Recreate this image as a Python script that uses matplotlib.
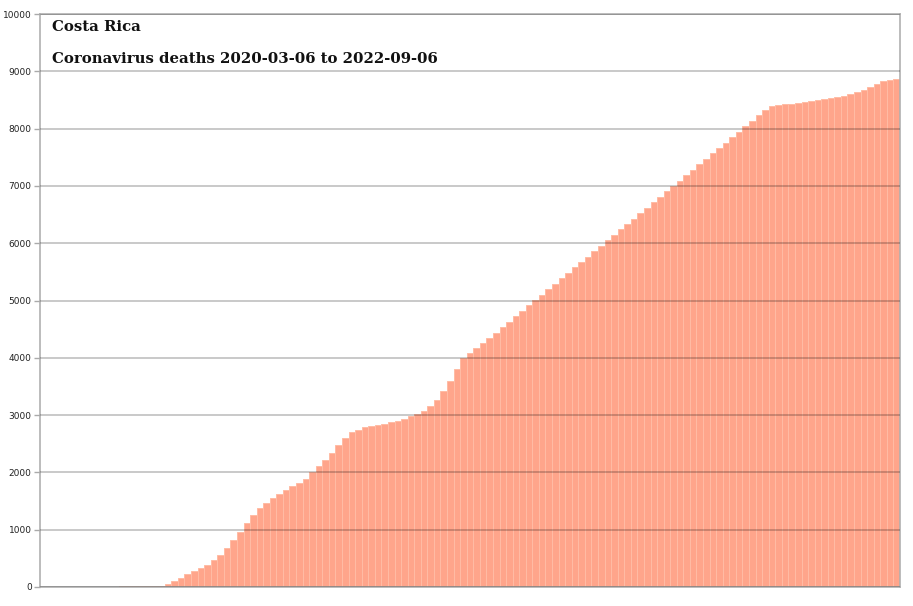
import matplotlib
matplotlib.use("Agg")
import matplotlib.pyplot as plt
import numpy as np

# weekly cumulative deaths (2020-03-06 .. 2022-09-06)
deaths = [0, 0, 2, 2, 2, 3, 6, 6, 6, 6,
          6, 7, 10, 10, 11, 12, 12, 10, 25, 60,
          109, 164, 220, 275, 329, 383, 464, 562, 679, 815,
          965, 1123, 1261, 1378, 1465, 1551, 1620, 1690, 1758, 1823,
          1889, 1999, 2114, 2225, 2342, 2474, 2601, 2702, 2748, 2786,
          2805, 2824, 2849, 2876, 2904, 2940, 2976, 3022, 3073, 3151,
          3268, 3412, 3596, 3799, 4005, 4085, 4165, 4253, 4346, 4441,
          4535, 4630, 4725, 4819, 4914, 5009, 5103, 5198, 5293, 5387,
          5482, 5577, 5672, 5766, 5861, 5956, 6050, 6145, 6240, 6335,
          6429, 6524, 6619, 6714, 6808, 6903, 6998, 7093, 7187, 7282,
          7377, 7471, 7566, 7661, 7755, 7850, 7945, 8040, 8134, 8229,
          8324, 8394, 8409, 8423, 8437, 8451, 8465, 8482, 8499, 8517,
          8534, 8551, 8577, 8606, 8636, 8670, 8721, 8773, 8823, 8848,
          8874]
country = "Costa Rica"
subtitle = "Coronavirus deaths 2020-03-06 to 2022-09-06"
yticks = list(range(0, 10001, 1000))

fig = plt.figure(figsize=(9.13, 6.06), dpi=100)
ax = fig.add_axes([40 / 913, 19 / 606, 860 / 913, 573 / 606])

x = np.arange(len(deaths))
ax.bar(x, deaths, width=1.0, color="#ffa58b", edgecolor="#ffbca5",
       linewidth=0.7, zorder=1)

ax.set_xlim(-0.5, len(deaths) - 0.5)
ax.set_ylim(0, 10000)
ax.set_yticks(yticks)
ax.set_yticklabels([str(t) for t in yticks], fontsize=6.5, color="#222222")
ax.set_xticks([])
ax.tick_params(axis="y", length=4, width=1, color="#aaaaaa", pad=2)

ax.set_axisbelow(False)
ax.yaxis.grid(True, color="black", alpha=0.25, linewidth=1.2, zorder=2)
for s in ax.spines.values():
    s.set_color("#b0b0b0")
    s.set_linewidth(1.2)

ax.text(0.014, 0.9895, country, transform=ax.transAxes, ha="left", va="top",
        fontsize=10.7, fontweight="bold", family="DejaVu Serif", color="#111111")
ax.text(0.014, 0.9335, subtitle, transform=ax.transAxes, ha="left", va="top",
        fontsize=10.7, fontweight="bold", family="DejaVu Serif", color="#111111")

fig.savefig("out.png", dpi=100)
